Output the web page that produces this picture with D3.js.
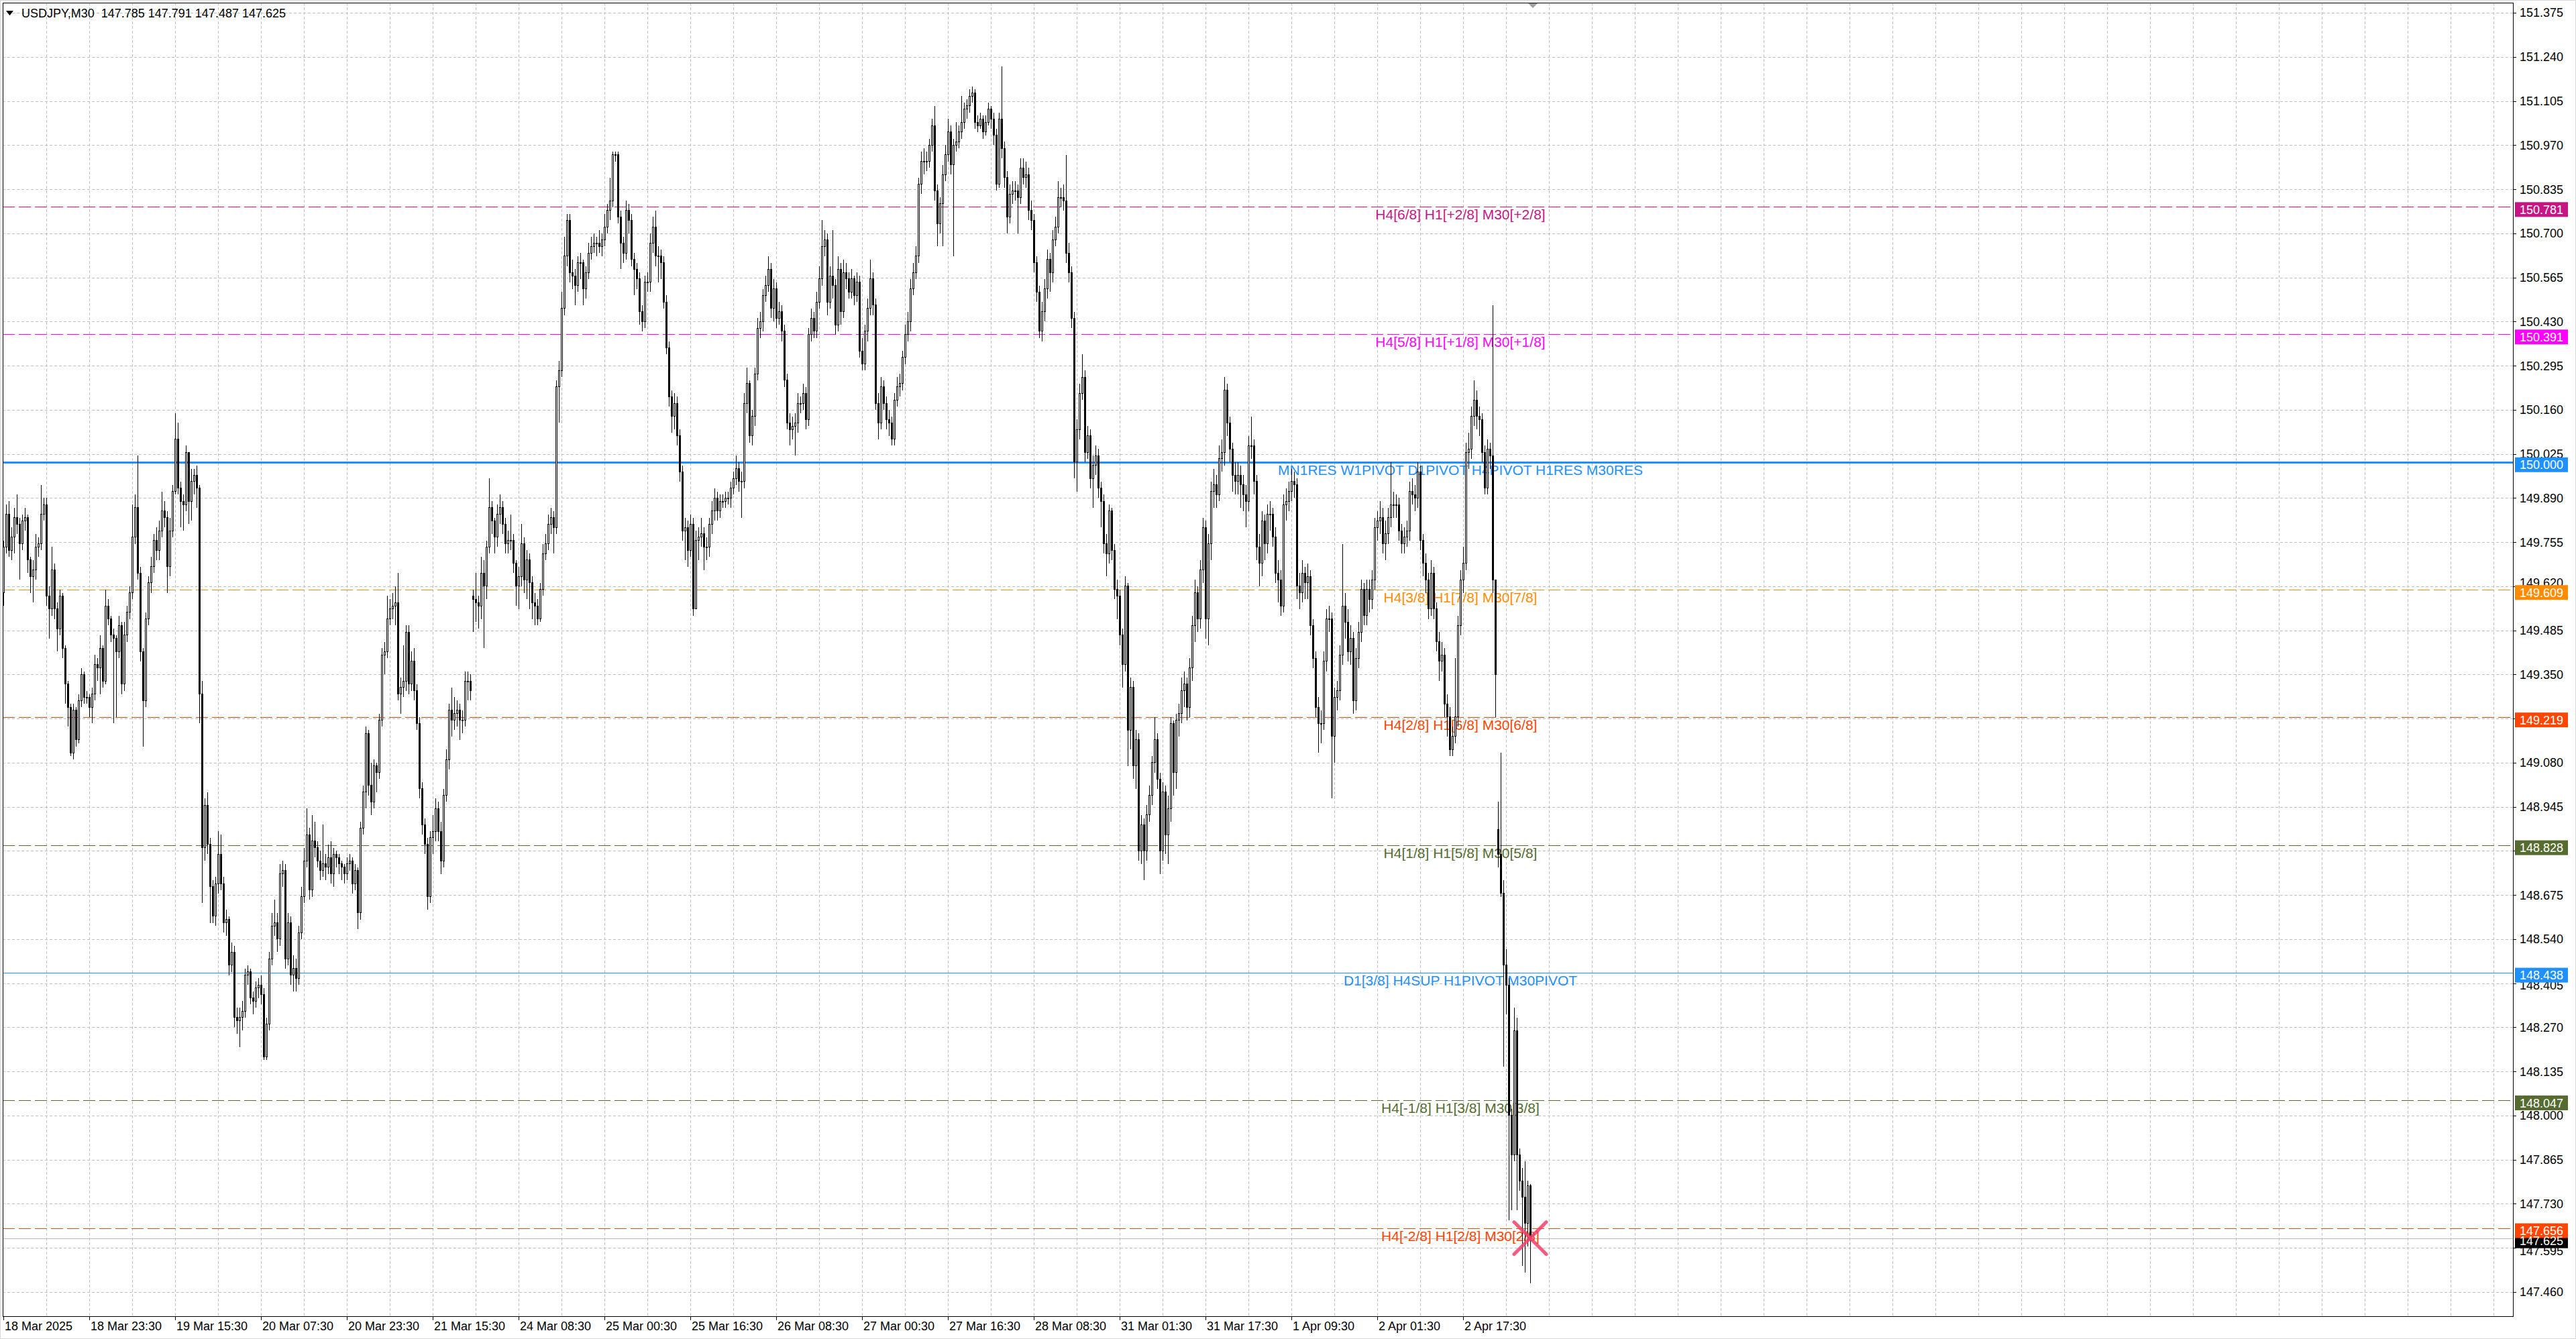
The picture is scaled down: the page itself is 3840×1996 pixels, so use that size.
<!DOCTYPE html>
<html>
<head>
<meta charset="utf-8">
<script src="https://cdn.jsdelivr.net/npm/d3@7"></script>
<style>
  html, body { margin: 0; padding: 0; background: #fff; }
  svg { display: block; }
  text { font-family: "Liberation Sans", Arial, sans-serif; }
</style>
</head>
<body>
<svg id="chart" width="3840" height="1996"></svg>
<script>
// ---- data ----
const symbol = 'USDJPY,M30';

const timeLabels = ['18 Mar 2025', '18 Mar 23:30', '19 Mar 15:30', '20 Mar 07:30', '20 Mar 23:30',
  '21 Mar 15:30', '24 Mar 08:30', '25 Mar 00:30', '25 Mar 16:30', '26 Mar 08:30', '27 Mar 00:30',
  '27 Mar 16:30', '28 Mar 08:30', '31 Mar 01:30', '31 Mar 17:30', '1 Apr 09:30', '2 Apr 01:30', '2 Apr 17:30'];

const priceTicks = [151.375, 151.240, 151.105, 150.970, 150.835, 150.700, 150.565, 150.430, 150.295,
  150.160, 150.025, 149.890, 149.755, 149.620, 149.485, 149.350, 149.215, 149.080, 148.945, 148.810,
  148.675, 148.540, 148.405, 148.270, 148.135, 148.000, 147.865, 147.730, 147.595, 147.460];

const levelPrices = [150.781, 150.391, 150.000, 149.609, 149.219, 148.828, 148.438, 148.047, 147.656];
const levelTexts = [
  'H4[6/8] H1[+2/8] M30[+2/8]',
  'H4[5/8] H1[+1/8] M30[+1/8]',
  'MN1RES W1PIVOT D1PIVOT H4PIVOT H1RES M30RES',
  'H4[3/8] H1[7/8] M30[7/8]',
  'H4[2/8] H1[6/8] M30[6/8]',
  'H4[1/8] H1[5/8] M30[5/8]',
  'D1[3/8] H4SUP H1PIVOT M30PIVOT',
  'H4[-1/8] H1[3/8] M30[3/8]',
  'H4[-2/8] H1[2/8] M30[2/8]'
];

const currentPrice = 147.625;

// one value per M30 bar, oldest first (bar open = previous close unless listed in gapOpens)
const closes = [
  149.74,149.84,149.73,149.77,149.83,149.81,149.75,149.82,149.83,149.70,
  149.65,149.67,149.74,149.75,149.84,149.87,149.59,149.55,149.67,149.55,
  149.49,149.59,149.43,149.32,149.25,149.11,149.24,149.15,149.27,149.35,
  149.28,149.28,149.25,149.29,149.38,149.37,149.43,149.33,149.56,149.52,
  149.47,149.46,149.42,149.50,149.32,149.47,149.54,149.60,149.77,149.86,
  149.66,149.42,149.27,149.52,149.63,149.68,149.76,149.73,149.79,149.85,
  149.83,149.68,149.79,149.91,150.07,149.92,149.88,149.87,150.03,149.88,
  149.94,149.96,149.92,149.29,148.82,148.95,148.83,148.70,148.61,148.71,
  148.80,148.71,148.59,148.60,148.46,148.50,148.30,148.29,148.30,148.32,
  148.43,148.44,148.36,148.35,148.39,148.40,148.37,148.18,148.28,148.48,
  148.58,148.59,148.54,148.74,148.75,148.48,148.59,148.43,148.45,148.42,
  148.56,148.67,148.78,148.86,148.69,148.84,148.82,148.78,148.75,148.77,
  148.76,148.79,148.74,148.80,148.79,148.77,148.76,148.74,148.77,148.78,
  148.71,148.75,148.62,148.88,148.99,149.17,149.01,148.96,149.07,149.05,
  149.21,149.41,149.42,149.52,149.55,149.56,149.57,149.29,149.31,149.33,
  149.48,149.32,149.39,149.30,149.20,149.00,148.89,148.83,148.67,148.85,
  148.87,148.94,148.87,148.78,148.98,149.09,149.24,149.21,149.23,149.24,
  149.21,149.21,149.33,149.33,149.30,149.58,149.57,149.56,149.66,149.62,
  149.74,149.86,149.82,149.77,149.84,149.86,149.81,149.75,149.76,149.76,
  149.69,149.62,149.65,149.75,149.64,149.70,149.63,149.57,149.56,149.52,
  149.61,149.72,149.75,149.81,149.83,149.80,150.23,150.28,150.47,150.63,
  150.74,150.58,150.57,150.54,150.61,150.61,150.53,150.58,150.64,150.66,
  150.67,150.67,150.66,150.68,150.72,150.77,150.80,150.94,150.94,150.75,
  150.67,150.64,150.77,150.74,150.62,150.59,150.56,150.46,150.43,150.55,
  150.55,150.67,150.72,150.63,150.63,150.61,150.49,150.35,150.20,150.14,
  150.18,150.08,149.97,149.79,149.80,149.73,149.81,149.55,149.76,149.77,
  149.78,149.74,149.74,149.81,149.85,149.89,149.85,149.88,149.88,149.89,
  149.89,149.92,149.95,149.98,149.94,149.94,150.18,150.24,150.08,150.14,
  150.27,150.41,150.43,150.51,150.54,150.59,150.47,150.53,150.44,150.46,
  150.40,150.25,150.12,150.10,150.11,150.12,150.18,150.18,150.21,150.13,
  150.39,150.44,150.40,150.49,150.56,150.66,150.68,150.49,150.57,150.54,
  150.42,150.59,150.46,150.58,150.56,150.52,150.56,150.51,150.55,150.34,
  150.30,150.40,150.47,150.56,150.48,150.18,150.12,150.23,150.18,150.13,
  150.12,150.07,150.19,150.23,150.24,150.32,150.39,150.43,150.53,150.58,
  150.63,150.85,150.92,150.92,150.92,150.97,151.03,150.83,150.73,150.79,
  150.88,150.94,151.01,150.91,150.97,150.98,151.01,151.04,151.08,151.09,
  151.12,151.13,151.04,151.03,151.05,151.01,151.04,151.08,151.05,151.00,
  150.85,151.05,150.96,150.87,150.75,150.82,150.83,150.83,150.81,150.90,
  150.87,150.88,150.77,150.74,150.61,150.52,150.40,150.46,150.53,150.62,
  150.58,150.68,150.72,150.81,150.81,150.80,150.64,150.58,150.44,150.00,
  150.10,150.21,150.26,150.03,150.08,149.95,149.99,150.02,149.92,149.88,
  149.75,149.72,149.85,149.73,149.61,149.59,149.47,149.38,149.62,149.18,
  149.31,149.07,149.15,148.81,148.89,148.81,148.92,148.98,149.08,149.15,
  149.03,148.81,148.99,148.86,148.94,149.20,149.05,149.21,149.23,149.30,
  149.32,149.25,149.37,149.50,149.60,149.52,149.67,149.80,149.52,149.75,
  149.91,149.93,149.90,150.01,150.03,150.22,150.12,150.04,149.96,149.94,
  149.96,149.93,149.90,149.88,150.05,150.05,149.94,149.74,149.69,149.82,
  149.75,149.84,149.84,149.77,149.66,149.64,149.56,149.87,149.88,149.91,
  149.94,149.93,149.62,149.60,149.66,149.63,149.65,149.50,149.40,149.25,
  149.20,149.20,149.39,149.52,149.52,149.16,149.28,149.30,149.41,149.56,
  149.51,149.42,149.46,149.27,149.40,149.48,149.61,149.53,149.61,149.58,
  149.64,149.80,149.82,149.83,149.75,149.78,149.83,149.87,149.87,149.87,
  149.79,149.75,149.77,149.79,149.91,149.90,149.89,149.97,149.76,149.69,
  149.64,149.55,149.66,149.55,149.45,149.39,149.41,149.26,149.22,149.12,
  149.16,149.22,149.50,149.64,149.69,150.03,150.04,150.14,150.19,150.14,
  150.13,150.03,149.92,150.04,150.02,149.64,149.35,148.80,148.68,148.46,
  148.40,148.00,147.88,148.26,147.88,147.80,147.75,147.67,147.785,147.625
];

const highs = [
  149.76,149.87,149.88,149.80,149.86,149.90,149.83,149.84,149.86,149.84,
  149.71,149.70,149.78,149.77,149.93,149.89,149.89,149.62,149.74,149.69,
  149.57,149.61,149.60,149.44,149.33,149.26,149.26,149.25,149.29,149.37,
  149.36,149.30,149.29,149.31,149.41,149.40,149.47,149.44,149.61,149.58,
  149.53,149.49,149.47,149.53,149.51,149.51,149.56,149.62,149.87,149.90,
  150.02,149.68,149.43,149.54,149.65,149.71,149.78,149.80,149.82,149.91,
  149.88,149.85,149.83,149.93,150.15,150.12,149.94,149.90,150.05,150.03,
  149.98,149.98,149.99,149.93,149.33,148.97,148.99,148.85,148.72,148.73,
  148.87,148.86,148.73,148.63,148.61,148.53,148.52,148.33,148.33,148.35,
  148.45,148.46,148.45,148.38,148.41,148.42,148.43,148.39,148.30,148.50,
  148.62,148.66,148.62,148.77,148.78,148.77,148.62,148.61,148.49,148.48,
  148.58,148.70,148.82,148.94,148.88,148.92,148.90,148.84,148.81,148.89,
  148.80,148.83,148.84,148.82,148.81,148.80,148.78,148.77,148.79,148.80,
  148.79,148.77,148.76,148.90,149.01,149.19,149.18,149.08,149.09,149.08,
  149.23,149.43,149.45,149.59,149.58,149.60,149.62,149.66,149.34,149.44,
  149.50,149.50,149.42,149.43,149.32,149.22,149.02,148.91,148.85,148.87,
  148.92,148.97,148.96,148.90,149.00,149.12,149.26,149.31,149.28,149.27,
  149.26,149.24,149.36,149.36,149.35,149.61,149.66,149.59,149.71,149.70,
  149.76,149.95,149.88,149.83,149.87,149.90,149.88,149.83,149.79,149.84,
  149.78,149.70,149.68,149.81,149.77,149.73,149.72,149.65,149.60,149.58,
  149.63,149.75,149.78,149.84,149.86,149.85,150.25,150.31,150.52,150.69,
  150.76,150.76,150.62,150.59,150.63,150.64,150.62,150.60,150.67,150.69,
  150.70,150.69,150.71,150.70,150.76,150.79,150.87,150.95,150.95,150.95,
  150.77,150.69,150.80,150.79,150.76,150.64,150.61,150.58,150.48,150.57,
  150.58,150.70,150.75,150.77,150.66,150.65,150.63,150.51,150.37,150.22,
  150.21,150.20,150.10,149.99,149.83,149.82,149.84,149.83,149.79,149.80,
  149.83,149.80,149.77,149.83,149.88,149.92,149.91,149.90,149.90,149.91,
  149.91,149.94,149.97,150.02,150.00,149.97,150.21,150.29,150.25,150.16,
  150.29,150.44,150.46,150.53,150.57,150.63,150.61,150.56,150.55,150.49,
  150.48,150.42,150.27,150.15,150.14,150.15,150.21,150.20,150.24,150.23,
  150.41,150.47,150.46,150.52,150.60,150.74,150.71,150.70,150.60,150.71,
  150.56,150.63,150.61,150.62,150.61,150.58,150.59,150.57,150.58,150.57,
  150.38,150.42,150.50,150.62,150.58,150.50,150.21,150.26,150.25,150.20,
  150.16,150.14,150.21,150.26,150.27,150.34,150.42,150.46,150.56,150.61,
  150.66,150.87,150.95,150.96,150.95,150.99,151.05,151.09,150.85,150.81,
  150.91,150.97,151.05,151.03,150.99,151.04,151.03,151.12,151.10,151.11,
  151.14,151.15,151.14,151.06,151.07,151.06,151.06,151.10,151.09,151.07,
  151.02,151.07,151.21,150.98,150.89,150.85,150.86,150.86,150.85,150.93,
  150.93,150.92,150.90,150.80,150.76,150.63,150.54,150.49,150.56,150.65,
  150.64,150.71,150.75,150.86,150.84,150.85,150.94,150.67,150.60,150.46,
  150.13,150.24,150.33,150.28,150.11,150.10,150.02,150.05,150.04,149.94,
  149.90,149.78,149.87,149.86,149.75,149.64,149.61,149.49,149.65,149.63,
  149.34,149.33,149.18,149.17,148.92,148.91,148.95,149.01,149.10,149.22,
  149.17,149.05,149.02,149.01,148.98,149.22,149.21,149.23,149.26,149.34,
  149.36,149.34,149.40,149.53,149.64,149.62,149.70,149.83,149.82,149.78,
  149.94,149.98,149.96,150.05,150.07,150.26,150.24,150.14,150.06,150.00,
  150.00,149.99,149.96,149.93,150.08,150.14,150.07,149.96,149.78,149.85,
  149.84,149.87,149.88,149.86,149.80,149.70,149.67,149.90,149.92,149.94,
  149.98,149.97,149.95,149.66,149.70,149.68,149.69,149.67,149.52,149.42,
  149.28,149.24,149.42,149.55,149.56,149.54,149.31,149.33,149.44,149.75,
  149.60,149.55,149.50,149.48,149.43,149.51,149.64,149.63,149.64,149.64,
  149.67,149.83,149.85,149.88,149.86,149.82,149.86,150.00,149.91,149.90,
  149.89,149.81,149.80,149.82,149.94,149.95,149.93,150.00,149.99,149.78,
  149.72,149.66,149.70,149.68,149.57,149.48,149.45,149.43,149.29,149.25,
  149.19,149.40,149.53,149.67,149.74,150.06,150.09,150.17,150.25,150.22,
  150.17,150.15,150.05,150.07,150.06,150.48,149.58,148.96,149.11,148.72,
  148.51,148.42,148.02,148.33,148.30,147.90,147.84,147.86,147.80,147.791
];

const lows = [
  149.56,149.72,149.71,149.70,149.72,149.78,149.64,149.73,149.79,149.66,
  149.60,149.57,149.64,149.71,149.73,149.82,149.56,149.46,149.53,149.52,
  149.42,149.47,149.40,149.26,149.19,149.10,149.09,149.13,149.14,149.25,
  149.26,149.26,149.22,149.20,149.27,149.33,149.29,149.31,149.32,149.50,
  149.45,149.20,149.22,149.40,149.29,149.30,149.45,149.52,149.58,149.75,
  149.64,149.39,149.13,149.25,149.50,149.60,149.66,149.70,149.70,149.77,
  149.80,149.60,149.65,149.77,149.90,149.90,149.80,149.79,149.85,149.81,
  149.82,149.90,149.86,149.20,148.65,148.78,148.80,148.59,148.59,148.58,
  148.68,148.69,148.56,148.55,148.43,148.44,148.27,148.25,148.21,148.26,
  148.30,148.40,148.34,148.31,148.33,148.36,148.34,148.17,148.17,148.26,
  148.46,148.55,148.50,148.52,148.70,148.45,148.46,148.40,148.38,148.38,
  148.40,148.54,148.65,148.76,148.66,148.67,148.79,148.76,148.72,148.73,
  148.72,148.74,148.71,148.70,148.76,148.74,148.72,148.71,148.72,148.75,
  148.68,148.69,148.57,148.60,148.86,148.94,148.98,148.92,148.94,148.99,
  149.03,149.19,149.35,149.40,149.50,149.52,149.50,149.27,149.23,149.28,
  149.30,149.29,149.30,149.27,149.18,148.97,148.86,148.80,148.63,148.65,
  148.80,148.84,148.84,148.74,148.76,148.96,149.06,149.16,149.18,149.19,
  149.15,149.17,149.19,149.27,149.27,149.48,149.51,149.49,149.52,149.43,
  149.58,149.72,149.78,149.72,149.74,149.81,149.78,149.72,149.72,149.73,
  149.66,149.56,149.55,149.62,149.60,149.58,149.55,149.52,149.50,149.50,
  149.51,149.59,149.70,149.73,149.78,149.72,149.78,150.12,150.26,150.45,
  150.60,150.55,150.53,150.48,150.52,150.56,150.48,150.50,150.56,150.62,
  150.64,150.63,150.64,150.63,150.66,150.70,150.74,150.78,150.92,150.73,
  150.59,150.61,150.62,150.70,150.60,150.51,150.53,150.42,150.40,150.41,
  150.52,150.52,150.64,150.60,150.55,150.56,150.47,150.33,150.17,150.09,
  150.10,150.05,149.94,149.76,149.70,149.68,149.71,149.53,149.55,149.70,
  149.74,149.67,149.70,149.71,149.78,149.82,149.82,149.83,149.86,149.86,
  149.87,149.86,149.90,149.93,149.91,149.83,149.92,150.15,150.06,150.05,
  150.11,150.25,150.38,150.40,150.49,150.52,150.44,150.43,150.41,150.42,
  150.37,150.23,150.10,150.05,150.07,150.02,150.09,150.15,150.16,150.10,
  150.11,150.37,150.38,150.38,150.47,150.54,150.63,150.45,150.47,150.50,
  150.39,150.40,150.42,150.44,150.53,150.50,150.50,150.48,150.49,150.32,
  150.28,150.28,150.37,150.45,150.45,150.16,150.07,150.10,150.16,150.10,
  150.08,150.05,150.05,150.17,150.20,150.22,150.30,150.37,150.40,150.51,
  150.56,150.61,150.82,150.88,150.89,150.90,150.95,150.80,150.66,150.70,
  150.66,150.86,150.92,150.88,150.63,150.95,150.96,150.99,151.02,151.05,
  151.07,151.10,151.02,151.01,151.02,150.99,151.00,151.03,151.02,150.97,
  150.83,150.84,150.93,150.84,150.70,150.73,150.79,150.80,150.70,150.79,
  150.85,150.84,150.74,150.71,150.58,150.49,150.38,150.37,150.43,150.50,
  150.52,150.55,150.66,150.70,150.78,150.77,150.61,150.55,150.41,149.95,
  149.91,150.07,150.19,150.00,150.01,149.92,149.86,149.96,149.89,149.80,
  149.72,149.65,149.69,149.70,149.58,149.52,149.44,149.31,149.36,149.07,
  149.12,149.03,149.00,148.78,148.77,148.72,148.78,148.90,148.95,149.05,
  149.00,148.74,148.78,148.80,148.77,148.90,148.98,149.00,149.16,149.20,
  149.25,149.21,149.22,149.33,149.45,149.48,149.49,149.63,149.46,149.44,
  149.70,149.86,149.86,149.88,149.97,149.99,150.08,150.00,149.91,149.90,
  149.90,149.86,149.85,149.80,149.85,150.01,149.90,149.70,149.62,149.65,
  149.70,149.72,149.79,149.74,149.63,149.57,149.53,149.54,149.82,149.85,
  149.88,149.89,149.58,149.55,149.57,149.58,149.58,149.47,149.37,149.22,
  149.11,149.14,149.18,149.36,149.48,148.97,149.08,149.24,149.27,149.38,
  149.46,149.39,149.38,149.23,149.24,149.37,149.45,149.50,149.50,149.54,
  149.55,149.61,149.76,149.78,149.72,149.70,149.75,149.80,149.83,149.83,
  149.76,149.72,149.72,149.74,149.76,149.87,149.85,149.86,149.73,149.65,
  149.60,149.52,149.53,149.52,149.42,149.33,149.36,149.22,149.16,149.10,
  149.10,149.14,149.19,149.47,149.60,149.67,149.98,150.01,150.11,150.10,
  150.08,150.00,149.90,149.90,149.98,149.60,149.22,148.76,148.67,148.15,
  148.31,147.68,147.71,147.86,147.71,147.77,147.54,147.52,147.60,147.487
];

// bars whose open is not the previous close (first bar, weekend gap, news gap)
const gapOpens = { 0: 149.60, 175: 149.59, 557: 148.875 };

// ---- styles ----
const levelStyles = [
  { color: '#C71585', dash: '18,6', width: 1 },
  { color: '#FF00FF', dash: '18,6', width: 1 },
  { color: '#1E90FF', dash: null,   width: 2.2 },
  { color: '#FF8C00', dash: '18,6', width: 1 },
  { color: '#FF4500', dash: '18,6', width: 1 },
  { color: '#556B2F', dash: '18,6', width: 1 },
  { color: '#1E90FF', dash: null,   width: 1.2 },
  { color: '#556B2F', dash: '18,6', width: 1 },
  { color: '#FF4500', dash: '18,6', width: 1 }
];

const W = 3840, H = 1996;
const plot = { left: 4, right: 3746, top: 4, bottom: 1962 };
const barsPerLabel = 32, barsPerGrid = 16;
const labelBar = 543;
const badgeShift = 4;   // price tags sit slightly below their line
const minGap = 15;      // closest a tick label may come to a price tag

const svg = d3.select('#chart');

const bars = closes.map((c, i) => {
  const o = (i in gapOpens) ? gapOpens[i] : closes[i - 1];
  return { i, o, c, h: Math.max(highs[i], o, c), l: Math.min(lows[i], o, c) };
});

const x = d3.scaleLinear().domain([0, (plot.right - 5) / 4]).range([5, plot.right]);
const y = d3.scaleLinear().domain([147.46, 151.375]).range([1926, 19]);

// outer window edge
svg.append('rect').attr('x', 0.5).attr('y', 0.5).attr('width', W - 1).attr('height', H - 1)
  .attr('fill', '#fff').attr('stroke', '#d8d8d8');

// grid
const grid = svg.append('g').attr('shape-rendering', 'crispEdges')
  .attr('stroke', '#c0c0c0').attr('stroke-dasharray', '4,3');
const gridBars = d3.range(barsPerGrid, x.domain()[1], barsPerGrid);
grid.selectAll('line.v').data(gridBars).join('line').attr('class', 'v')
  .attr('x1', d => Math.round(x(d)) + 0.5).attr('x2', d => Math.round(x(d)) + 0.5)
  .attr('y1', plot.top).attr('y2', plot.bottom);
grid.selectAll('line.h').data(priceTicks).join('line').attr('class', 'h')
  .attr('x1', plot.left).attr('x2', plot.right)
  .attr('y1', d => Math.round(y(d)) + 0.5).attr('y2', d => Math.round(y(d)) + 0.5);

// level lines
const levels = levelPrices.map((p, k) => ({ p, text: levelTexts[k], ...levelStyles[k] }));
svg.append('g').attr('shape-rendering', 'crispEdges')
  .selectAll('line').data(levels).join('line')
  .attr('x1', plot.left).attr('x2', plot.right)
  .attr('y1', d => Math.round(y(d.p)) + 0.5).attr('y2', d => Math.round(y(d.p)) + 0.5)
  .attr('stroke', d => d.color).attr('stroke-width', d => d.width)
  .attr('stroke-dasharray', d => d.dash);

// current price line
svg.append('line').attr('shape-rendering', 'crispEdges')
  .attr('x1', plot.left).attr('x2', plot.right)
  .attr('y1', Math.round(y(currentPrice)) + 0.5).attr('y2', Math.round(y(currentPrice)) + 0.5)
  .attr('stroke', '#b8b8b8').attr('stroke-width', 1);

// level captions
svg.append('g').selectAll('text').data(levels).join('text')
  .attr('x', x(labelBar)).attr('y', d => y(d.p) + 19)
  .attr('text-anchor', 'middle').attr('font-size', 21)
  .attr('fill', d => d.color).text(d => d.text);

// candles
const cg = svg.append('g').attr('shape-rendering', 'crispEdges');
cg.selectAll('line').data(bars).join('line')
  .attr('x1', d => x(d.i) + 0.5).attr('x2', d => x(d.i) + 0.5)
  .attr('y1', d => y(d.h)).attr('y2', d => y(d.l))
  .attr('stroke', '#000').attr('stroke-width', 1);
cg.selectAll('rect').data(bars).join('rect')
  .attr('x', d => x(d.i) - 0.5).attr('width', 2)
  .attr('y', d => y(Math.max(d.o, d.c)))
  .attr('height', d => Math.max(1, y(Math.min(d.o, d.c)) - y(Math.max(d.o, d.c))))
  .attr('fill', d => d.c >= d.o ? '#fff' : '#000')
  .attr('stroke', '#000').attr('stroke-width', 1);

// marker on the last bar
const last = bars[bars.length - 1];
const mx = x(last.i), my = y(last.c), ms = 24;
svg.append('g').attr('stroke', '#f0406a').attr('stroke-opacity', 0.85)
  .attr('stroke-width', 5).attr('stroke-linecap', 'round')
  .selectAll('line').data([[-1, -1, 1, 1], [-1, 1, 1, -1]]).join('line')
  .attr('x1', d => mx + d[0] * ms).attr('y1', d => my + d[1] * ms)
  .attr('x2', d => mx + d[2] * ms).attr('y2', d => my + d[3] * ms);

// frame
svg.append('rect').attr('shape-rendering', 'crispEdges')
  .attr('x', plot.left + 0.5).attr('y', plot.top + 0.5)
  .attr('width', plot.right - plot.left).attr('height', plot.bottom - plot.top)
  .attr('fill', 'none').attr('stroke', '#000').attr('stroke-width', 1.5);

// shift marker at the top
const sx = x(570);
svg.append('path').attr('d', `M${sx - 7},${plot.top + 1}L${sx + 7},${plot.top + 1}L${sx},${plot.top + 8}Z`)
  .attr('fill', '#a0a0a0');

// price badges (current price first, levels on top)
const badges = [{ p: currentPrice, color: '#000' }].concat(levels);
const badgeY = badges.map(b => y(b.p) + badgeShift);

// price axis: labels fully under a tag are skipped, labels close to a tag are nudged off it
const tickLabels = priceTicks.map(t => {
  let ty = y(t);
  const near = badgeY.reduce((a, b) => Math.abs(b - ty) < Math.abs(a - ty) ? b : a);
  const dist = ty - near;
  if (Math.abs(dist) < 8) return null;
  if (Math.abs(dist) < minGap) ty = near + Math.sign(dist) * minGap;
  return { t, ty };
}).filter(Boolean);

const pa = svg.append('g');
pa.selectAll('line').data(priceTicks).join('line').attr('shape-rendering', 'crispEdges')
  .attr('x1', plot.right).attr('x2', plot.right + 5)
  .attr('y1', d => Math.round(y(d)) + 0.5).attr('y2', d => Math.round(y(d)) + 0.5)
  .attr('stroke', '#000');
pa.selectAll('text').data(tickLabels).join('text')
  .attr('x', plot.right + 10).attr('y', d => d.ty).attr('dy', '0.36em')
  .attr('font-size', 18).attr('fill', '#000').text(d => d.t.toFixed(3));

const bg = svg.append('g');
bg.selectAll('rect').data(badges).join('rect')
  .attr('x', plot.right + 3).attr('width', 79)
  .attr('y', (d, k) => badgeY[k] - 11).attr('height', 22).attr('fill', d => d.color);
bg.selectAll('text').data(badges).join('text')
  .attr('x', plot.right + 10).attr('y', (d, k) => badgeY[k]).attr('dy', '0.36em')
  .attr('font-size', 18).attr('fill', '#fff').text(d => d.p.toFixed(3));

// time axis
const labelBars = timeLabels.map((t, k) => ({ t, i: k * barsPerLabel }));
const ta = svg.append('g');
ta.selectAll('line').data(labelBars).join('line').attr('shape-rendering', 'crispEdges')
  .attr('x1', d => x(d.i) + 0.5).attr('x2', d => x(d.i) + 0.5)
  .attr('y1', plot.bottom).attr('y2', plot.bottom + 6).attr('stroke', '#000');
ta.selectAll('text').data(labelBars).join('text')
  .attr('x', d => x(d.i) + 2).attr('y', 1983)
  .attr('font-size', 18).attr('fill', '#000').text(d => d.t);

// title
svg.append('path').attr('d', 'M9,16L20,16L14.5,23Z').attr('fill', '#000');
svg.append('text').attr('x', 32).attr('y', 26).attr('font-size', 18).attr('fill', '#000')
  .style('white-space', 'pre')
  .text(`${symbol}  ${[last.o, last.h, last.l, last.c].map(v => v.toFixed(3)).join(' ')}`);
</script>
</body>
</html>
